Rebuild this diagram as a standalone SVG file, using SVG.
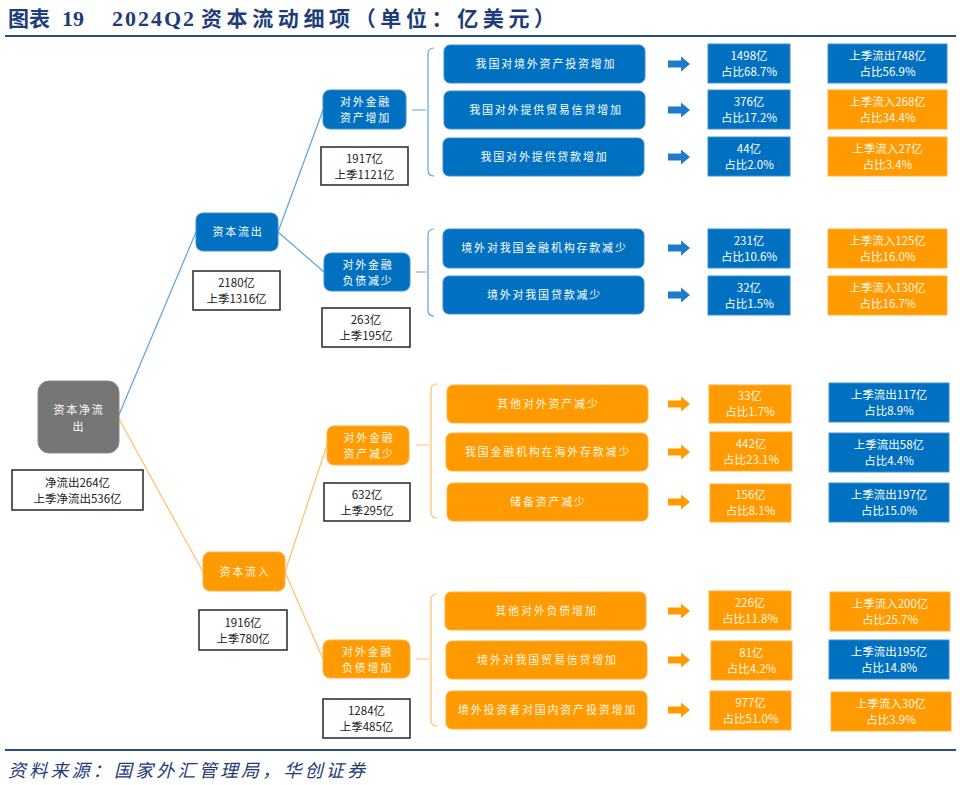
<svg xmlns="http://www.w3.org/2000/svg" width="960" height="785" viewBox="0 0 960 785">
<defs>
<style>
.t{font-family:"Noto Sans CJK SC","Liberation Sans",sans-serif;}
.title{font-weight:bold;font-size:21px;fill:#1d3c78;}
.tc{font-family:"Noto Sans CJK SC",sans-serif;}
.tn{font-family:"Liberation Serif","Noto Sans CJK SC",serif;font-size:22px;}
.src{font-family:"Noto Sans CJK SC",sans-serif;font-style:italic;font-size:18px;fill:#1d3c78;}
.bn{fill:#0070c0;stroke:#3f8fd2;stroke-width:1;}
.on{fill:#ff9a00;stroke:#ffb040;stroke-width:1;}
.gn{fill:#767676;stroke:#8a8a8a;stroke-width:1;}
.lbl{fill:#fff;stroke:#333;stroke-width:1.6;}
.wt{fill:#fff;font-size:11px;letter-spacing:1.8px;text-anchor:middle;}
.ot{fill:#fff6e6;font-size:11px;letter-spacing:1.8px;text-anchor:middle;}
.vt{fill:#fff;font-size:11.5px;text-anchor:middle;}
.vo{fill:#fff6e6;font-size:11.5px;text-anchor:middle;}
.kt{fill:#222;font-size:11.5px;text-anchor:middle;}
.cb{fill:none;stroke:#5aa3e6;stroke-width:1.2;}
.co{fill:none;stroke:#ffc067;stroke-width:1.2;}
.ab{fill:#1f7bc9;}
.ao{fill:#ff9a00;}
</style>
<path id="arr" d="M0,-3.5 L13,-3.5 L13,-7.5 L22,0 L13,7.5 L13,3.5 L0,3.5 Z"/>
</defs>
<rect width="960" height="785" fill="#fff"/>

<g id="title" class="title">
<text class="tc" x="8" y="26" textLength="42">图表</text>
<text class="tn" x="62" y="26">19</text>
<text class="tn" x="112" y="26" textLength="82">2024Q2</text>
<text class="tc" x="201" y="26" textLength="354">资本流动细项（单位：亿美元）</text>
<line x1="5" y1="36" x2="956" y2="36" stroke="#2b4c8c" stroke-width="2"/>
</g>

<g id="connectors">
<path class="cb" d="M118,417 L196,232"/>
<path class="cb" d="M278,232 L323,110"/>
<path class="cb" d="M278,232 L324,272"/>
<path class="co" d="M118,417 L203,572"/>
<path class="co" d="M285,572 L327,445"/>
<path class="co" d="M285,572 L323,659"/>
<path class="cb" d="M412,110 L426,110 M434,48 Q428,48 428,54 L428,170 Q428,176 434,176"/>
<path class="cb" d="M416,272 L426,272 M434,229 Q428,229 428,235 L428,310 Q428,316 434,316"/>
<path class="co" d="M416,445 L429,445 M437,384 Q431,384 431,390 L431,512 Q431,518 437,518"/>
<path class="co" d="M416,659 L429,659 M437,594 Q431,594 431,600 L431,720 Q431,726 437,726"/>
<use href="#arr" class="ab" x="668" y="64"/>
<use href="#arr" class="ab" x="668" y="110"/>
<use href="#arr" class="ab" x="668" y="157"/>
<use href="#arr" class="ab" x="668" y="248"/>
<use href="#arr" class="ab" x="668" y="295"/>
<use href="#arr" class="ao" x="668" y="404"/>
<use href="#arr" class="ao" x="668" y="452"/>
<use href="#arr" class="ao" x="668" y="502"/>
<use href="#arr" class="ao" x="668" y="611"/>
<use href="#arr" class="ao" x="668" y="660"/>
<use href="#arr" class="ao" x="668" y="710"/>
</g>

<g id="root" class="t">
<rect class="gn" x="38" y="381" width="81" height="72" rx="11"/>
<text class="wt" x="79" y="414" fill="#eee">资本净流</text>
<text class="wt" x="79" y="431">出</text>
<rect class="lbl" x="12" y="470" width="131" height="40"/>
<text class="kt" x="77.5" y="487">净流出264亿</text>
<text class="kt" x="77.5" y="503">上季净流出536亿</text>
</g>

<g id="outflow" class="t">
<rect class="bn" x="196" y="213" width="82" height="38" rx="7"/>
<text class="wt" x="238" y="236">资本流出</text>
<rect class="lbl" x="193" y="271" width="87" height="39"/>
<text class="kt" x="236.5" y="287">2180亿</text>
<text class="kt" x="236.5" y="303">上季1316亿</text>
</g>

<g id="inflow" class="t">
<rect class="on" x="203" y="552" width="82" height="39" rx="7"/>
<text class="ot" x="245" y="576">资本流入</text>
<rect class="lbl" x="199" y="610" width="88" height="40"/>
<text class="kt" x="243" y="627">1916亿</text>
<text class="kt" x="243" y="643">上季780亿</text>
</g>

<g id="asset-inc" class="t">
<rect class="bn" x="323" y="90" width="83" height="39" rx="7"/>
<text class="wt" x="365.5" y="106">对外金融</text>
<text class="wt" x="365.5" y="122">资产增加</text>
<rect class="lbl" x="321" y="147" width="87" height="38"/>
<text class="kt" x="364.5" y="163">1917亿</text>
<text class="kt" x="364.5" y="179">上季1121亿</text>
</g>

<g id="liab-dec" class="t">
<rect class="bn" x="324" y="253" width="86" height="38" rx="7"/>
<text class="wt" x="368" y="269">对外金融</text>
<text class="wt" x="368" y="285">负债减少</text>
<rect class="lbl" x="322" y="308" width="88" height="39"/>
<text class="kt" x="366" y="324">263亿</text>
<text class="kt" x="366" y="340">上季195亿</text>
</g>

<g id="asset-dec" class="t">
<rect class="on" x="327" y="426" width="82" height="39" rx="7"/>
<text class="ot" x="369" y="442">对外金融</text>
<text class="ot" x="369" y="458">资产减少</text>
<rect class="lbl" x="324" y="483" width="86" height="38"/>
<text class="kt" x="367" y="499">632亿</text>
<text class="kt" x="367" y="515">上季295亿</text>
</g>

<g id="liab-inc" class="t">
<rect class="on" x="323" y="640" width="87" height="38" rx="7"/>
<text class="ot" x="367.5" y="656">对外金融</text>
<text class="ot" x="367.5" y="672">负债增加</text>
<rect class="lbl" x="323" y="699" width="87" height="39"/>
<text class="kt" x="366.5" y="715">1284亿</text>
<text class="kt" x="366.5" y="731">上季485亿</text>
</g>

<g id="row1" class="t">
<rect class="bn" x="444" y="45" width="201" height="38" rx="6"/>
<text class="wt" x="546" y="68">我国对境外资产投资增加</text>
<rect class="bn" x="708" y="44" width="82" height="39"/>
<text class="vt" x="749" y="60">1498亿</text><text class="vt" x="749" y="76">占比68.7%</text>
<rect class="bn" x="828" y="44" width="119" height="39"/>
<text class="vt" x="887.5" y="60">上季流出748亿</text><text class="vt" x="887.5" y="76">占比56.9%</text>
</g>
<g id="row2" class="t">
<rect class="bn" x="444" y="91" width="201" height="38" rx="6"/>
<text class="wt" x="546" y="114">我国对外提供贸易信贷增加</text>
<rect class="bn" x="708" y="90" width="82" height="39"/>
<text class="vt" x="749" y="106">376亿</text><text class="vt" x="749" y="122">占比17.2%</text>
<rect class="on" x="828" y="90" width="119" height="39"/>
<text class="vo" x="887.5" y="106">上季流入268亿</text><text class="vo" x="887.5" y="122">占比34.4%</text>
</g>
<g id="row3" class="t">
<rect class="bn" x="443" y="138" width="201" height="38" rx="6"/>
<text class="wt" x="544.5" y="161">我国对外提供贷款增加</text>
<rect class="bn" x="708" y="137" width="82" height="39"/>
<text class="vt" x="749" y="153">44亿</text><text class="vt" x="749" y="169">占比2.0%</text>
<rect class="on" x="828" y="137" width="119" height="39"/>
<text class="vo" x="887.5" y="153">上季流入27亿</text><text class="vo" x="887.5" y="169">占比3.4%</text>
</g>
<g id="row4" class="t">
<rect class="bn" x="443" y="229" width="201" height="39" rx="6"/>
<text class="wt" x="544.5" y="252">境外对我国金融机构存款减少</text>
<rect class="bn" x="708" y="229" width="82" height="39"/>
<text class="vt" x="749" y="245">231亿</text><text class="vt" x="749" y="261">占比10.6%</text>
<rect class="on" x="828" y="229" width="119" height="39"/>
<text class="vo" x="887.5" y="245">上季流入125亿</text><text class="vo" x="887.5" y="261">占比16.0%</text>
</g>
<g id="row5" class="t">
<rect class="bn" x="443" y="276" width="201" height="38" rx="6"/>
<text class="wt" x="544.5" y="299">境外对我国贷款减少</text>
<rect class="bn" x="708" y="276" width="82" height="39"/>
<text class="vt" x="749" y="292">32亿</text><text class="vt" x="749" y="308">占比1.5%</text>
<rect class="on" x="828" y="276" width="119" height="39"/>
<text class="vo" x="887.5" y="292">上季流入130亿</text><text class="vo" x="887.5" y="308">占比16.7%</text>
</g>

<g id="row6" class="t">
<rect class="on" x="447" y="385" width="201" height="38" rx="6"/>
<text class="ot" x="548.5" y="408">其他对外资产减少</text>
<rect class="on" x="709" y="385" width="82" height="38"/>
<text class="vo" x="750" y="400">33亿</text><text class="vo" x="750" y="416">占比1.7%</text>
<rect class="bn" x="829" y="383" width="120" height="39"/>
<text class="vt" x="889" y="399">上季流出117亿</text><text class="vt" x="889" y="415">占比8.9%</text>
</g>
<g id="row7" class="t">
<rect class="on" x="446" y="433" width="202" height="38" rx="6"/>
<text class="ot" x="548" y="456">我国金融机构在海外存款减少</text>
<rect class="on" x="710" y="432" width="82" height="39"/>
<text class="vo" x="751" y="448">442亿</text><text class="vo" x="751" y="464">占比23.1%</text>
<rect class="bn" x="829" y="433" width="120" height="39"/>
<text class="vt" x="889" y="449">上季流出58亿</text><text class="vt" x="889" y="465">占比4.4%</text>
</g>
<g id="row8" class="t">
<rect class="on" x="447" y="483" width="201" height="38" rx="6"/>
<text class="ot" x="548.5" y="506">储备资产减少</text>
<rect class="on" x="710" y="484" width="81" height="38"/>
<text class="vo" x="750.5" y="499">156亿</text><text class="vo" x="750.5" y="515">占比8.1%</text>
<rect class="bn" x="829" y="483" width="120" height="39"/>
<text class="vt" x="889" y="499">上季流出197亿</text><text class="vt" x="889" y="515">占比15.0%</text>
</g>
<g id="row9" class="t">
<rect class="on" x="445" y="592" width="201" height="38" rx="6"/>
<text class="ot" x="546.5" y="615">其他对外负债增加</text>
<rect class="on" x="709" y="591" width="82" height="39"/>
<text class="vo" x="750" y="607">226亿</text><text class="vo" x="750" y="623">占比11.8%</text>
<rect class="on" x="830" y="592" width="120" height="39"/>
<text class="vo" x="890" y="608">上季流入200亿</text><text class="vo" x="890" y="624">占比25.7%</text>
</g>
<g id="row10" class="t">
<rect class="on" x="446" y="641" width="201" height="38" rx="6"/>
<text class="ot" x="547.5" y="664">境外对我国贸易信贷增加</text>
<rect class="on" x="711" y="641" width="81" height="39"/>
<text class="vo" x="751.5" y="657">81亿</text><text class="vo" x="751.5" y="673">占比4.2%</text>
<rect class="bn" x="829" y="640" width="120" height="39"/>
<text class="vt" x="889" y="656">上季流出195亿</text><text class="vt" x="889" y="672">占比14.8%</text>
</g>
<g id="row11" class="t">
<rect class="on" x="446" y="691" width="201" height="38" rx="6"/>
<text class="ot" x="547.5" y="714">境外投资者对国内资产投资增加</text>
<rect class="on" x="710" y="691" width="81" height="39"/>
<text class="vo" x="750.5" y="707">977亿</text><text class="vo" x="750.5" y="723">占比51.0%</text>
<rect class="on" x="831" y="692" width="120" height="39"/>
<text class="vo" x="891" y="708">上季流入30亿</text><text class="vo" x="891" y="724">占比3.9%</text>
</g>

<g id="footer">
<line x1="5" y1="750" x2="956" y2="750" stroke="#2b4c8c" stroke-width="2"/>
<text class="src" x="8" y="777" textLength="357">资料来源：国家外汇管理局，华创证券</text>
</g>
</svg>
